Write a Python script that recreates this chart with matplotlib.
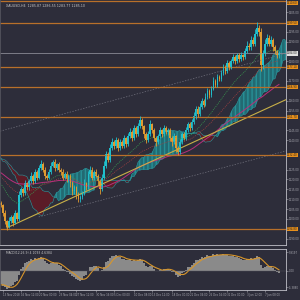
import numpy as np
import pandas as pd
import matplotlib
matplotlib.use('Agg')
import matplotlib.pyplot as plt

# bars before the visible window (only feed the indicators)
history = [1228, 1226, 1230, 1233, 1235, 1232, 1234, 1236, 1233, 1231,
           1229, 1232, 1230, 1227, 1224, 1226, 1222, 1220, 1218, 1215,
           1213, 1211, 1209, 1212, 1210, 1208]
hist_up = [1.1, 0.9, 1.4, 1.2, 0.8, 1.0, 1.3, 0.9, 1.1, 1.2,
           0.8, 1.5, 1.0, 0.9, 1.3, 1.1, 1.2, 0.8, 1.0, 1.4,
           0.9, 1.1, 1.3, 1.0, 0.8, 1.2]
hist_dn = [0.9, 1.2, 1.0, 0.8, 1.3, 1.1, 0.9, 1.4, 1.0, 1.2,
           1.1, 0.9, 1.3, 1.5, 1.0, 1.2, 0.8, 1.4, 1.1, 1.3,
           1.0, 0.9, 1.6, 1.1, 1.2, 1.4]

closes = [1207, 1203, 1199, 1196, 1199, 1201, 1198, 1203, 1200, 1212,
          1215, 1213, 1218, 1216, 1219, 1222, 1219, 1224, 1221, 1226,
          1228, 1225, 1222, 1221, 1224, 1227, 1229, 1226, 1228, 1225,
          1224, 1221, 1223, 1220, 1222, 1218, 1214, 1216, 1212, 1210,
          1211, 1213, 1218, 1216, 1223, 1225, 1221, 1224, 1222, 1219,
          1215, 1221, 1227, 1233, 1230, 1236, 1239, 1237, 1240, 1236,
          1239, 1237, 1241, 1238, 1242, 1244, 1241, 1246, 1243, 1247,
          1250, 1247, 1243, 1240, 1243, 1248, 1245, 1241, 1239, 1242,
          1245, 1243, 1246, 1244, 1245, 1241, 1239, 1242, 1236, 1234,
          1239, 1243, 1241, 1245, 1248, 1246, 1249, 1252, 1256, 1253,
          1257, 1260, 1258, 1262, 1265, 1263, 1266, 1270, 1268, 1272,
          1271, 1274, 1277, 1275, 1279, 1277, 1280, 1282, 1280, 1283,
          1281, 1283, 1282, 1285, 1288, 1287, 1291, 1289, 1294, 1297,
          1295, 1278, 1284, 1289, 1292, 1289, 1291, 1287, 1285, 1283,
          1284]
up_wick = [1.2, 0.8, 1.5, 0.6, 2.0, 1.1, 0.9, 1.4, 0.7, 2.2, 1.3, 0.8, 1.6, 0.9, 1.2, 1.8, 0.7, 1.3, 1.0, 1.5,
           2.1, 0.9, 1.2, 0.8, 1.4, 1.7, 1.0, 1.3, 0.6, 1.1, 0.9, 1.5, 0.8, 1.2, 1.0, 0.7, 1.4, 1.1, 0.9, 1.6,
           1.0, 1.3, 2.0, 0.8, 1.5, 1.9, 1.1, 0.9, 1.3, 0.8, 1.2, 1.7, 2.3, 1.4, 1.0, 1.8, 2.0, 1.2, 1.5, 0.9,
           1.3, 1.0, 1.6, 0.8, 1.4, 1.9, 1.1, 1.5, 0.9, 1.7, 2.4, 1.0, 0.8, 1.2, 1.5, 2.1, 0.9, 1.1, 1.3, 1.0,
           1.4, 0.8, 1.6, 1.0, 1.2, 0.9, 1.1, 1.5, 0.8, 1.0, 1.6, 1.3, 0.9, 1.7, 1.4, 1.1, 1.6, 2.5, 1.2, 1.4,
           1.8, 1.5, 1.0, 1.9, 1.6, 1.1, 1.4, 2.0, 1.0, 1.7, 1.2, 1.8, 1.5, 1.0, 1.6, 1.1, 1.3, 1.9, 1.0, 1.4,
           1.2, 1.5, 0.9, 1.8, 2.2, 1.3, 2.0, 1.2, 2.4, 2.8, 1.5, 1.8, 1.6, 2.2, 1.9, 1.2, 1.6, 1.0, 1.3, 0.9, 1.1]
dn_wick = [0.9, 1.4, 1.8, 1.5, 0.7, 1.2, 1.6, 0.8, 1.3, 1.0, 0.9, 1.5, 0.7, 1.2, 1.1, 0.8, 1.4, 0.9, 1.3, 0.7,
           1.0, 1.4, 1.8, 1.2, 0.8, 1.1, 0.9, 1.5, 1.2, 1.0, 1.6, 1.3, 0.9, 1.5, 1.1, 1.7, 1.9, 1.2, 1.8, 1.5,
           1.3, 0.9, 0.8, 1.1, 0.7, 1.0, 1.4, 1.2, 0.9, 1.6, 2.2, 1.0, 0.8, 1.3, 1.1, 0.9, 1.0, 1.4, 0.8, 1.6,
           1.2, 1.1, 0.9, 1.3, 1.0, 0.8, 1.4, 1.0, 1.2, 0.9, 1.1, 1.5, 1.8, 1.6, 1.0, 0.9, 1.3, 1.7, 1.9, 1.2,
           0.9, 1.2, 1.0, 1.1, 1.3, 1.6, 1.8, 1.2, 2.0, 1.7, 1.0, 0.9, 1.2, 0.8, 1.1, 1.3, 0.9, 1.0, 1.5, 1.4,
           1.0, 1.2, 1.3, 0.9, 1.1, 1.4, 1.0, 0.8, 1.3, 1.0, 1.1, 0.9, 1.2, 1.4, 1.0, 1.3, 1.1, 0.9, 1.2, 1.0,
           1.3, 1.1, 1.2, 1.0, 0.9, 1.4, 1.1, 1.3, 1.0, 1.2, 2.0, 3.0, 1.8, 1.2, 1.0, 1.5, 1.3, 1.6, 1.4, 1.2, 1.1]

levels = [1310.60, 1299.50, 1277.10, 1266.90, 1251.70, 1232.40, 1194.80]
trend_x = [3, 143.5]
trend_y = [1195.5, 1260.5]
chan1_x = [-0.5, 143.5]
chan1_y = [1244.5, 1284.0]
chan2_x = [19, 143.5]
chan2_y = [1201.0, 1234.5]

date_pos = [1, 10, 19, 29, 38, 48, 57, 67, 76, 86, 95, 105, 114, 124, 133]
date_lbl = ['13 Nov 2018', '16 Nov 12:00', '20 Nov 00:00', '23 Nov 04:00', '27 Nov 12:00',
            '30 Nov 16:00', '5 Dec 00:00', '10 Dec 08:00', '13 Dec 12:00', '18 Dec 00:00',
            '21 Dec 04:00', '26 Dec 16:00', '31 Dec 00:00', '3 Jan 12:00', '7 Jan 08:00']

bg = '#2d2d3a'
bull = '#1fbfcc'
bear = '#e09a30'
orange = '#b8702a'
txt = '#a8a8b0'
fs = 1.9

allc = np.array(history + closes, dtype=float)
opens = np.concatenate([[allc[0]], allc[:-1]])
ups = np.array(hist_up + up_wick)
dns = np.array(hist_dn + dn_wick)
highs = np.maximum(opens, allc) + ups
lows = np.minimum(opens, allc) - dns
xs = np.arange(len(allc)) - len(history)

h = pd.Series(highs)
l = pd.Series(lows)
c = pd.Series(allc)
tenkan = (h.rolling(5, min_periods=1).max() + l.rolling(5, min_periods=1).min()) / 2
kijun = (h.rolling(13, min_periods=1).max() + l.rolling(13, min_periods=1).min()) / 2
spanA = ((tenkan + kijun) / 2).values
spanB = ((h.rolling(26, min_periods=1).max() + l.rolling(26, min_periods=1).min()) / 2).values
xc = xs + 13

ma_fast = c.ewm(span=20, adjust=False).mean().values
ma_mid = c.ewm(span=35, adjust=False).mean().values
ma_slow = c.rolling(60, min_periods=1).mean().values

ema_f = c.ewm(span=6, adjust=False).mean()
ema_s = c.ewm(span=13, adjust=False).mean()
macd = (ema_f - ema_s).values
signal = pd.Series(macd).rolling(5, min_periods=1).mean().values

fig = plt.figure(figsize=(3, 3), dpi=100, facecolor=bg)
ax = fig.add_axes([0.0, 0.183, 0.953, 0.817], facecolor=bg)
ax2 = fig.add_axes([0.0, 0.033, 0.953, 0.137], facecolor=bg)

# cloud
ax.fill_between(xc, spanA, spanB, where=spanA >= spanB, interpolate=True,
                color='#1f7f86', alpha=0.75, lw=0, hatch='||||', edgecolor='#2a9ca3')
ax.fill_between(xc, spanA, spanB, where=spanA < spanB, interpolate=True,
                color='#641a24', alpha=0.85, lw=0)
ax.plot(xc, spanA, color='#2a9aa0', lw=0.4)
ax.plot(xc, spanB, color='#2a9aa0', lw=0.4)

ax.plot(xs, ma_fast, color='#3aa050', lw=0.5, ls=(0, (1.5, 1.5)))
ax.plot(xs, ma_mid, color='#a84040', lw=0.5, ls=(0, (1.5, 1.5)))
ax.plot(xs, ma_slow, color='#b8307a', lw=0.7)

ax.plot(chan1_x, chan1_y, color='#70707c', lw=0.5, ls=(0, (2, 2)))
ax.plot(chan2_x, chan2_y, color='#70707c', lw=0.5, ls=(0, (2, 2)))
ax.plot(trend_x, trend_y, color='#c8b048', lw=0.8)

for lv in levels:
    ax.axhline(lv, color=orange, lw=0.9)
ax.axhline(closes[-1], color='#8a8a94', lw=0.6)

# candles
vis = xs >= 0
cols = np.where(allc >= opens, bull, bear)
ax.vlines(xs[vis], lows[vis], highs[vis], colors=cols[vis], lw=0.6)
body = np.maximum(np.abs(allc - opens), 0.3)
ax.bar(xs[vis], body[vis], bottom=np.minimum(opens, allc)[vis], width=0.85,
       color=cols[vis], lw=0, antialiased=False)

ax.set_xlim(-0.5, 143.5)
ax.set_ylim(1186.7, 1311.1)
ax.yaxis.tick_right()
marked = levels + [closes[-1]]
ticks = [t for t in np.arange(1190, 1311, 5) if min(abs(t - m) for m in marked) > 2.6]
ax.set_yticks(ticks)
ax.yaxis.set_major_formatter(matplotlib.ticker.FormatStrFormatter('%.2f'))
ax.tick_params(axis='y', labelsize=fs, colors=txt, length=1.2, width=0.4, pad=0.6)
ax.set_xticks([])
for s in ax.spines.values():
    s.set_color('#c0c0c8')
    s.set_linewidth(0.6)
ax.spines['top'].set_visible(False)
ax.spines['left'].set_color('#55555f')

for lv in levels:
    ax.text(1.004, min(lv, 1309.6), '%.2f' % lv, transform=ax.get_yaxis_transform(), fontsize=fs,
            color='#202020', va='center', ha='left',
            bbox=dict(boxstyle='square,pad=0.1', fc='#e8901c', ec='none'))
ax.text(1.004, closes[-1], '%.2f' % closes[-1], transform=ax.get_yaxis_transform(),
        fontsize=fs, color='#202020', va='center', ha='left',
        bbox=dict(boxstyle='square,pad=0.1', fc='#e0e0e0', ec='none'))

ax.text(0.02, 0.985, 'XAUUSD,H4  1285.87 1286.55 1283.77 1285.10', transform=ax.transAxes,
        fontsize=2.3, color='#c8c8c8', va='top', ha='left')

# MACD
ax2.bar(xs[vis], macd[vis], width=1.0, color='#8a8a8a', lw=0)
ax2.plot(xs[vis], signal[vis], color='#d8962a', lw=0.8)
ax2.axhline(0, color='#55555f', lw=0.3)
ax2.set_xlim(-0.5, 143.5)
mn = macd[vis].min()
mx = macd[vis].max()
ax2.set_ylim(mn * 1.05, mx * 1.3)
ax2.yaxis.tick_right()
ax2.set_yticks([mn * 0.9, 0, mx * 1.1])
ax2.set_yticklabels(['%.4f' % (mn * 0.9), '0.00', '%.4f' % (mx * 1.1)])
ax2.tick_params(axis='y', labelsize=fs, colors=txt, length=1.2, width=0.4, pad=0.6)
ax2.set_xticks(date_pos)
ax2.set_xticklabels(date_lbl, ha='left')
ax2.tick_params(axis='x', labelsize=fs, colors=txt, length=1.5, width=0.4, pad=0.8)
for s in ax2.spines.values():
    s.set_color('#c0c0c8')
    s.set_linewidth(0.6)
ax2.spines['left'].set_color('#55555f')
ax2.text(0.02, 0.96, 'MACD(12,26,9) 4.1093 4.6384', transform=ax2.transAxes,
         fontsize=2.2, color='#c8c8c8', va='top', ha='left')

fig.savefig('out.png', dpi=100, facecolor=bg)
